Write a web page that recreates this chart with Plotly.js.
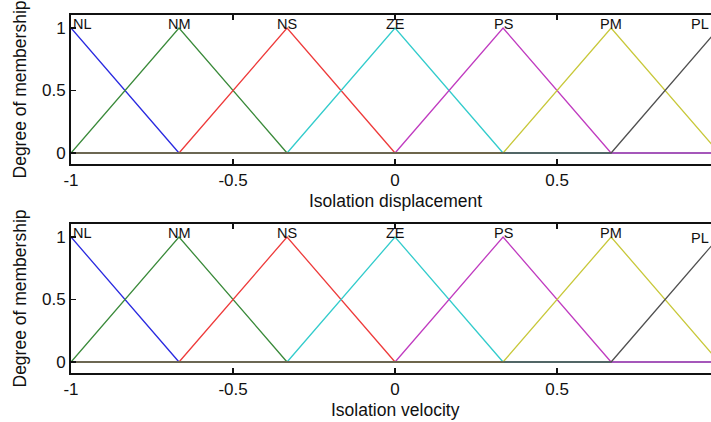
<!DOCTYPE html>
<html><head><meta charset="utf-8">
<script src="https://cdn.plot.ly/plotly-3.0.1.min.js"></script>
<style>html,body{margin:0;padding:0;background:#fff}#chart{width:711px;height:422px}</style>
</head><body><div id="chart"></div>
<script>
// Membership function breakpoints (universe of discourse)
const xPoints = [-1, -0.6667, -0.3333, 0, 0.3333, 0.6667, 1];
const mfNames = ["NL", "NM", "NS", "ZE", "PS", "PM", "PL"];
const NL = [1, 0, 0, 0, 0, 0, 0];
const NM = [0, 1, 0, 0, 0, 0, 0];
const NS = [0, 0, 1, 0, 0, 0, 0];
const ZE = [0, 0, 0, 1, 0, 0, 0];
const PS = [0, 0, 0, 0, 1, 0, 0];
const PM = [0, 0, 0, 0, 0, 1, 0];
const PL = [0, 0, 0, 0, 0, 0, 1];
const peaks = [-1, -0.6667, -0.3333, 0, 0.3333, 0.6667, 1];
const xTicks = [-1, -0.5, 0, 0.5];
const xTickText = ["-1", "-0.5", "0", "0.5"];
const yTicks = [0, 0.5, 1];
const yTickText = ["0", "0.5", "1"];
const xTitles = ["Isolation displacement", "Isolation velocity"];
const yTitle = "Degree of membership";

const mfValues = [NL, NM, NS, ZE, PS, PM, PL];
const colors = ["#2a2ae0", "#3a8a3a", "#ee3b3b", "#33cccc", "#c03cc0", "#c8c83a", "#505050"];

const traces = [];
["", "2"].forEach((suf) => {
  mfValues.forEach((vals, i) => {
    traces.push({x: xPoints, y: vals, type: "scatter", mode: "lines",
      xaxis: "x" + suf, yaxis: "y" + suf,
      line: {color: colors[i], width: 1.3}, hoverinfo: "skip", showlegend: false});
  });
});

const fam = "Liberation Sans, Arial, Helvetica, sans-serif";
const tickFont = {family: fam, size: 17, color: "#111"};
const titleFont = {family: fam, size: 17.5, color: "#111"};
function xa(anchor) {
  return {range: [-1, 0.975], tickvals: xTicks, ticktext: xTickText, ticks: "inside", ticklen: 5,
    tickwidth: 1.2, tickcolor: "#111", showline: true, linecolor: "#111", linewidth: 2, mirror: "ticks",
    showgrid: false, zeroline: false, anchor: anchor, tickfont: tickFont, domain: [0, 1]};
}
function ya(anchor, dom) {
  return {range: [-0.088, 1.104], tickvals: yTicks, ticktext: yTickText, ticks: "inside", ticklen: 5,
    tickwidth: 1.2, tickcolor: "#111", showline: true, linecolor: "#111", linewidth: 2,
    showgrid: false, zeroline: false, anchor: anchor, tickfont: tickFont, domain: dom};
}

const annotations = [];
[["x", "y"], ["x2", "y2"]].forEach((ax, k) => {
  mfNames.forEach((nm, i) => {
    let xa_ = "center", xv = peaks[i], ys = -6;
    if (i === 0) { xa_ = "left"; }
    if (i === mfNames.length - 1) { xa_ = "right"; xv = 0.975; if (k === 1) ys = -11; }
    annotations.push({x: xv, y: 1.0, xref: ax[0], yref: ax[1], text: nm, showarrow: false,
      xanchor: xa_, yanchor: "bottom", yshift: ys, font: {family: fam, size: 14.5, color: "#111"}});
  });
  annotations.push({x: 0, y: 0, xref: ax[0], yref: ax[1] + " domain", text: xTitles[k], showarrow: false,
    xanchor: "center", yanchor: "top", yshift: -25, font: titleFont});
  annotations.push({x: 0, y: 0.5, xref: "paper", yref: ax[1] + " domain", text: yTitle, showarrow: false,
    textangle: -90, xanchor: "center", yanchor: "middle", xshift: -51, font: titleFont});
});

const layout = {
  width: 711, height: 422, margin: {l: 71, r: 0, t: 0, b: 0},
  paper_bgcolor: "#fff", plot_bgcolor: "#fff", showlegend: false,
  xaxis: xa("y"), yaxis: ya("x", [0.6114, 0.9645]),
  xaxis2: xa("y2"), yaxis2: ya("x2", [0.1161, 0.4692]),
  annotations: annotations
};
Plotly.newPlot("chart", traces, layout, {displayModeBar: false, staticPlot: true});
</script></body></html>
